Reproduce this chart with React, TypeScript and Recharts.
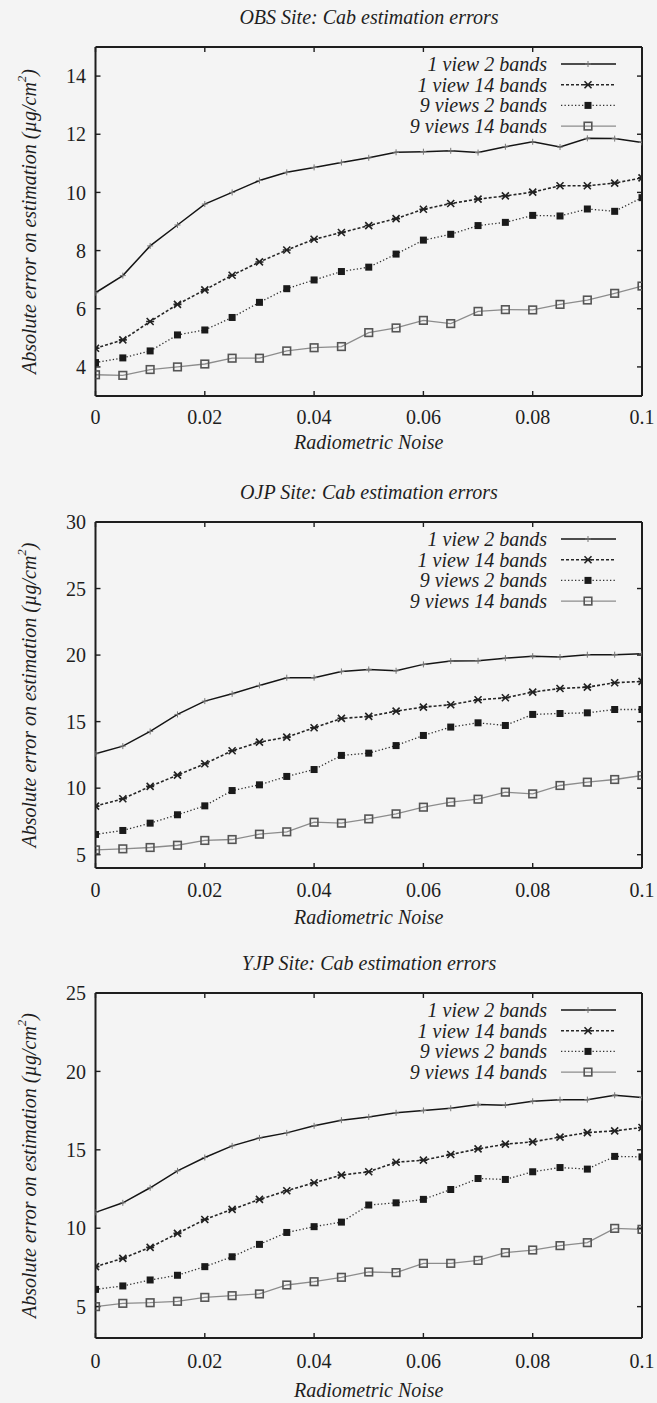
import React from 'react';
import { LineChart, Line, XAxis, YAxis, Legend, Label } from 'recharts';

// radiometric noise levels (x axis)
const noiseLevels = [
  0, 0.005, 0.01, 0.015, 0.02, 0.025, 0.03, 0.035, 0.04, 0.045, 0.05,
  0.055, 0.06, 0.065, 0.07, 0.075, 0.08, 0.085, 0.09, 0.095, 0.1,
];
const xTicks = [0, 0.02, 0.04, 0.06, 0.08, 0.1];

const seriesNames = ['1 view 2 bands', '1 view 14 bands', '9 views 2 bands', '9 views 14 bands'];

// OBS site
const obs1v2 = [6.55, 7.14, 8.16, 8.88, 9.6, 10.0, 10.41, 10.69, 10.86, 11.03, 11.19, 11.38, 11.4, 11.43, 11.37, 11.57, 11.74, 11.56, 11.86, 11.85, 11.72];
const obs1v14 = [4.64, 4.93, 5.56, 6.15, 6.65, 7.15, 7.61, 8.02, 8.39, 8.62, 8.86, 9.1, 9.42, 9.62, 9.77, 9.88, 10.01, 10.23, 10.23, 10.32, 10.5];
const obs9v2 = [4.15, 4.31, 4.55, 5.1, 5.27, 5.7, 6.22, 6.69, 6.99, 7.28, 7.43, 7.88, 8.36, 8.56, 8.86, 8.97, 9.21, 9.19, 9.43, 9.35, 9.82];
const obs9v14 = [3.73, 3.71, 3.91, 4.0, 4.1, 4.3, 4.3, 4.55, 4.66, 4.7, 5.18, 5.34, 5.6, 5.49, 5.91, 5.97, 5.96, 6.15, 6.3, 6.53, 6.78];
const obsTicks = [4, 6, 8, 10, 12, 14];

// OJP site
const ojp1v2 = [12.58, 13.16, 14.26, 15.54, 16.54, 17.09, 17.72, 18.3, 18.3, 18.77, 18.92, 18.82, 19.3, 19.55, 19.57, 19.77, 19.92, 19.85, 20.03, 20.03, 20.1];
const ojp1v14 = [8.65, 9.2, 10.13, 10.98, 11.83, 12.81, 13.46, 13.83, 14.54, 15.24, 15.39, 15.79, 16.09, 16.27, 16.64, 16.79, 17.22, 17.49, 17.59, 17.92, 18.02];
const ojp9v2 = [6.52, 6.82, 7.37, 8.0, 8.67, 9.82, 10.25, 10.88, 11.4, 12.46, 12.63, 13.2, 13.96, 14.59, 14.91, 14.71, 15.54, 15.61, 15.66, 15.91, 15.91];
const ojp9v14 = [5.36, 5.44, 5.54, 5.71, 6.07, 6.14, 6.54, 6.72, 7.44, 7.37, 7.69, 8.07, 8.57, 8.95, 9.17, 9.7, 9.57, 10.2, 10.45, 10.65, 10.95];
const ojpTicks = [5, 10, 15, 20, 25, 30];

// YJP site
const yjp1v2 = [11.01, 11.62, 12.58, 13.66, 14.51, 15.25, 15.76, 16.08, 16.53, 16.89, 17.1, 17.36, 17.51, 17.65, 17.89, 17.85, 18.1, 18.2, 18.2, 18.48, 18.33];
const yjp1v14 = [7.55, 8.08, 8.78, 9.67, 10.56, 11.2, 11.84, 12.39, 12.9, 13.39, 13.6, 14.21, 14.34, 14.7, 15.06, 15.36, 15.51, 15.81, 16.1, 16.21, 16.42];
const yjp9v2 = [6.1, 6.32, 6.7, 7.0, 7.55, 8.18, 8.97, 9.73, 10.1, 10.39, 11.48, 11.62, 11.84, 12.47, 13.17, 13.11, 13.6, 13.87, 13.77, 14.58, 14.55];
const yjp9v14 = [5.0, 5.21, 5.25, 5.34, 5.59, 5.7, 5.81, 6.38, 6.59, 6.87, 7.21, 7.17, 7.76, 7.76, 7.95, 8.44, 8.61, 8.89, 9.08, 9.99, 9.93];
const yjpTicks = [5, 10, 15, 20, 25];

const FONT = '"Liberation Serif", "Times New Roman", serif';
const INK = '#1e1e1e';
const PAPER = '#f4f4f4';

if (typeof document !== 'undefined') {
  document.body.style.margin = '0';
  document.body.style.background = PAPER;
}

const buildRows = (a: number[], b: number[], c: number[], d: number[]) =>
  noiseLevels.map((x, i) => ({ x, a: a[i], b: b[i], c: c[i], d: d[i] }));

// marker shapes, gnuplot style
const PlusMark = ({ cx, cy }: any) => (
  <path d={`M${cx - 3},${cy}h6M${cx},${cy - 3}v6`} stroke="#777" strokeWidth={1} />
);
const StarMark = ({ cx, cy }: any) => (
  <path
    d={`M${cx - 3.5},${cy - 3.5}L${cx + 3.5},${cy + 3.5}M${cx - 3.5},${cy + 3.5}L${cx + 3.5},${cy - 3.5}M${cx - 4},${cy}h8`}
    stroke="#222"
    strokeWidth={1.6}
  />
);
const FilledSquare = ({ cx, cy }: any) => (
  <rect x={cx - 3.5} y={cy - 3.5} width={7} height={7} fill="#1a1a1a" />
);
const OpenSquare = ({ cx, cy }: any) => (
  <rect x={cx - 3.8} y={cy - 3.8} width={7.6} height={7.6} fill="none" stroke="#555" strokeWidth={1.6} />
);

const seriesStyles = [
  { key: 'a', stroke: '#151515', width: 1.5, dash: undefined, Mark: PlusMark },
  { key: 'b', stroke: '#262626', width: 1.6, dash: '3 2', Mark: StarMark },
  { key: 'c', stroke: '#303030', width: 1.3, dash: '1.3 2.2', Mark: FilledSquare },
  { key: 'd', stroke: '#8c8c8c', width: 1.3, dash: undefined, Mark: OpenSquare },
];

const renderLegend = () => (
  <svg width={657} height={100} style={{ display: 'block' }}>
    {seriesNames.map((name, i) => {
      const s = seriesStyles[i];
      const y = 17 + i * 20.7;
      return (
        <g key={name}>
          <text x={547} y={y} textAnchor="end" dominantBaseline="central" fontFamily={FONT} fontStyle="italic" fontSize={20} fill={INK}>
            {name}
          </text>
          <line x1={561} x2={616} y1={y} y2={y} stroke={s.stroke} strokeWidth={s.width} strokeDasharray={s.dash} />
          <s.Mark cx={588} cy={y} />
        </g>
      );
    })}
  </svg>
);

interface PanelProps {
  title: string;
  top: number;
  height: number;
  frameTop: number;
  frameBottom: number;
  tickGap: number;
  labelGap: number;
  yDomain: [number, number];
  yTicks: number[];
  data: Array<Record<string, number>>;
}

const frameLine = { stroke: INK, strokeWidth: 2 };
const tickStroke = { stroke: INK, strokeWidth: 1.4 };

const Panel: React.FC<PanelProps> = ({ title, top, height, frameTop, frameBottom, tickGap, labelGap, yDomain, yTicks, data }) => {
  const bottomSpace = height - frameBottom;
  return (
    <div style={{ position: 'absolute', left: 0, top, width: 657, height }}>
      <div
        style={{
          position: 'absolute',
          left: 0,
          width: 738,
          top: frameTop - 30 - 12,
          height: 24,
          lineHeight: '24px',
          textAlign: 'center',
          fontFamily: FONT,
          fontStyle: 'italic',
          fontSize: 20,
          color: INK,
          whiteSpace: 'nowrap',
        }}
      >
        {title}
      </div>
      <LineChart
        width={657}
        height={height}
        data={data}
        margin={{ top: frameTop - 1, right: 14, bottom: 0, left: 0 }}
        style={{ overflow: 'visible' }}
      >
        <XAxis
          dataKey="x"
          type="number"
          domain={[0, 0.1]}
          ticks={xTicks}
          allowDataOverflow
          height={bottomSpace}
          axisLine={frameLine}
          tickLine={tickStroke}
          tickSize={-5}
          tickMargin={tickGap - 7 + 5}
          tick={{ fill: INK, fontSize: 20, fontFamily: FONT }}
          tickFormatter={(v: number) => String(v)}
        >
          <Label
            content={({ viewBox }: any) => (
              <text
                x={viewBox.x + viewBox.width / 2}
                y={frameBottom + labelGap}
                textAnchor="middle"
                dominantBaseline="central"
                fontFamily={FONT}
                fontStyle="italic"
                fontSize={20}
                fill={INK}
                stroke="none"
              >
                Radiometric Noise
              </text>
            )}
          />
        </XAxis>
        <XAxis
          xAxisId="top"
          dataKey="x"
          type="number"
          orientation="top"
          domain={[0, 0.1]}
          ticks={xTicks}
          allowDataOverflow
          height={1}
          axisLine={frameLine}
          tickLine={tickStroke}
          tickSize={-5}
          tickFormatter={() => ''}
        />
        <YAxis
          type="number"
          domain={yDomain}
          ticks={yTicks}
          allowDataOverflow
          width={95.5}
          axisLine={frameLine}
          tickLine={tickStroke}
          tickSize={-5}
          tickMargin={14.5}
          tick={{ fill: INK, fontSize: 20, fontFamily: FONT }}
        >
          <Label
            content={({ viewBox }: any) => {
              const cy = viewBox.y + viewBox.height / 2;
              return (
                <text
                  x={29}
                  y={cy}
                  transform={`rotate(-90 29 ${cy})`}
                  textAnchor="middle"
                  dominantBaseline="central"
                  fontFamily={FONT}
                  fontStyle="italic"
                  fontSize={20}
                  fill={INK}
                  stroke="none"
                >
                  Absolute error on estimation (µg/cm
                  <tspan fontSize={13} dy={-8}>2</tspan>
                  <tspan dy={8}>)</tspan>
                </text>
              );
            }}
          />
        </YAxis>
        <YAxis
          yAxisId="right"
          type="number"
          orientation="right"
          domain={yDomain}
          ticks={yTicks}
          allowDataOverflow
          width={1}
          axisLine={frameLine}
          tickLine={tickStroke}
          tickSize={-5}
          tickFormatter={() => ''}
        />
        <Legend
          layout="horizontal"
          verticalAlign="middle"
          align="center"
          content={renderLegend}
          wrapperStyle={{ position: 'absolute', left: 0, top: frameTop, width: 657, height: 100 }}
        />
        {seriesStyles.map((s, i) => (
          <Line
            key={s.key}
            dataKey={s.key}
            name={seriesNames[i]}
            type="linear"
            stroke={s.stroke}
            strokeWidth={s.width}
            strokeDasharray={s.dash}
            dot={(p: any) => <s.Mark key={`${s.key}-${p.index}`} cx={p.cx} cy={p.cy} />}
            activeDot={false}
            isAnimationActive={false}
          />
        ))}
        {/* mirror axes need a series to be laid out; this one draws nothing */}
        <Line
          xAxisId="top"
          yAxisId="right"
          dataKey="a"
          stroke="none"
          dot={false}
          activeDot={false}
          legendType="none"
          isAnimationActive={false}
        />
      </LineChart>
    </div>
  );
};

export default function App() {
  return (
    <div style={{ position: 'relative', width: 657, height: 1403, overflow: 'hidden', background: PAPER }}>
      <Panel
        title="OBS Site: Cab estimation errors"
        top={0}
        height={460}
        frameTop={47}
        frameBottom={396}
        tickGap={21}
        labelGap={46}
        yDomain={[3, 15]}
        yTicks={obsTicks}
        data={buildRows(obs1v2, obs1v14, obs9v2, obs9v14)}
      />
      <Panel
        title="OJP Site: Cab estimation errors"
        top={460}
        height={475}
        frameTop={62}
        frameBottom={408}
        tickGap={22}
        labelGap={49}
        yDomain={[4, 30]}
        yTicks={ojpTicks}
        data={buildRows(ojp1v2, ojp1v14, ojp9v2, ojp9v14)}
      />
      <Panel
        title="YJP Site: Cab estimation errors"
        top={920}
        height={483}
        frameTop={73}
        frameBottom={418}
        tickGap={23}
        labelGap={52}
        yDomain={[3, 25]}
        yTicks={yjpTicks}
        data={buildRows(yjp1v2, yjp1v14, yjp9v2, yjp9v14)}
      />
    </div>
  );
}
